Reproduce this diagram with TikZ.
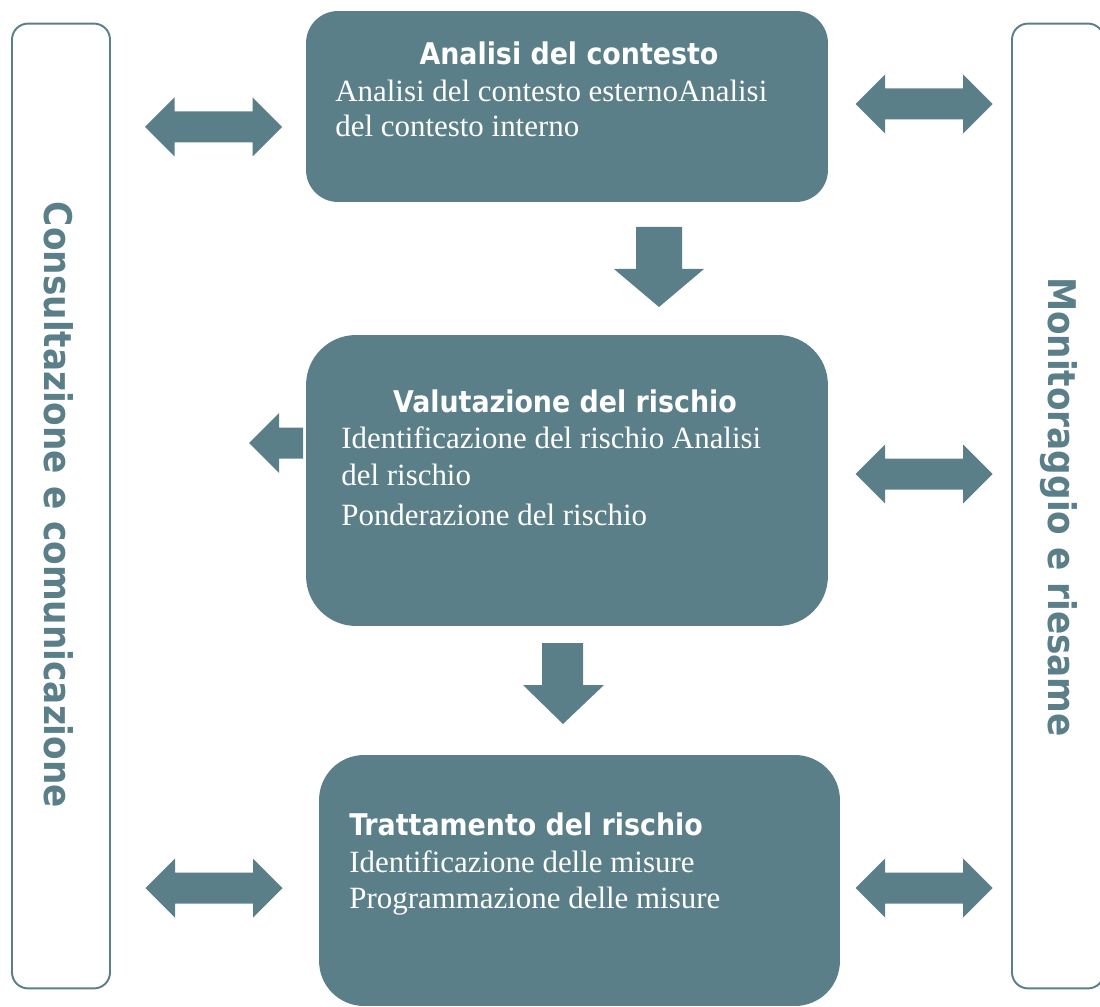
\documentclass[tikz,border=0pt]{standalone}
\usepackage{fontspec}
\setmainfont{Liberation Serif}
\newfontfamily\headfont{DejaVu Sans Condensed}
\usetikzlibrary{positioning}

\definecolor{riskteal}{HTML}{5B7F89}

\tikzset{
  procbox/.style={rectangle, fill=riskteal, inner sep=0pt},
  sidebox/.style={rectangle, draw=riskteal, line width=1.1pt, fill=white, rounded corners=0.32cm, inner sep=0pt},
  boxtitle/.style={text=white, inner sep=0pt, font=\headfont\bfseries\fontsize{17}{20}\selectfont},
  boxline/.style={text=white, inner sep=0pt, font=\fontsize{17.6}{20}\selectfont},
  sidetext/.style={text=riskteal, inner sep=0pt, rotate=-90, font=\headfont\bfseries\fontsize{21.7}{24}\selectfont},
  dblarrow/.pic={
    \fill[riskteal] (-68.5,0) -- (-39,-29.5) -- (-39,-15.5) -- (39,-15.5) -- (39,-29.5)
      -- (68.5,0) -- (39,29.5) -- (39,15.5) -- (-39,15.5) -- (-39,29.5) -- cycle;
  }
}

\begin{document}
\begin{tikzpicture}[x=0.02cm, y=-0.02cm]
  \useasboundingbox (0,0) rectangle (1100,1007);

  % side frames
  \node[sidebox, minimum width=1.96cm, minimum height=19.3cm] (consbox) at (61,506) {};
  \node[sidetext] (constext) at (59,505) {Consultazione e comunicazione};
  \node[sidebox, minimum width=1.84cm, minimum height=19.3cm] (monbox) at (1058,506) {};
  \node[sidetext] (montext) at (1059,507) {Monitoraggio e riesame};

  % process steps
  \node[procbox, rounded corners=0.64cm, minimum width=10.44cm, minimum height=3.82cm] (ctxbox) at (567,106.5) {};
  \node[boxtitle, anchor=base] (ctxtitle) at (569,65) {Analisi del contesto};
  \node[boxline, anchor=base west] (ctxline1) at (335,102) {Analisi del contesto esternoAnalisi};
  \node[boxline, anchor=base west] (ctxline2) at (335,137) {del contesto interno};

  \node[procbox, rounded corners=1cm, minimum width=10.44cm, minimum height=5.82cm] (valbox) at (567,480.5) {};
  \node[boxtitle, anchor=base] (valtitle) at (565,412) {Valutazione del rischio};
  \node[boxline, anchor=base west] (valline1) at (341,448) {Identificazione del rischio Analisi};
  \node[boxline, anchor=base west] (valline2) at (341,485) {del rischio};
  \node[boxline, anchor=base west] (valline3) at (341,525) {Ponderazione del rischio};

  \node[procbox, rounded corners=0.9cm, minimum width=10.42cm, minimum height=5.02cm] (tratbox) at (579.5,880.5) {};
  \node[boxtitle, anchor=base west] (trattitle) at (349,835) {Trattamento del rischio};
  \node[boxline, anchor=base west] (tratline1) at (349,872) {Identificazione delle misure};
  \node[boxline, anchor=base west] (tratline2) at (349,908) {Programmazione delle misure};

  % flow arrows
  \fill[riskteal] (636,227) -- (682,227) -- (682,269) -- (704,269) -- (659,307) -- (614,269) -- (636,269) -- cycle;
  \fill[riskteal] (542,643) -- (583,643) -- (583,685) -- (604,685) -- (563,724) -- (523,685) -- (542,685) -- cycle;
  \fill[riskteal] (303,427.5) -- (279,427.5) -- (279,413) -- (249,443) -- (279,473) -- (279,458.5) -- (303,458.5) -- cycle;

  % exchange arrows
  \pic (ctxleft) at (213.5,127) {dblarrow};
  \pic (ctxright) at (924,104) {dblarrow};
  \pic (valright) at (924,474) {dblarrow};
  \pic (tratleft) at (214,888) {dblarrow};
  \pic (tratright) at (924,888) {dblarrow};
\end{tikzpicture}
\end{document}
